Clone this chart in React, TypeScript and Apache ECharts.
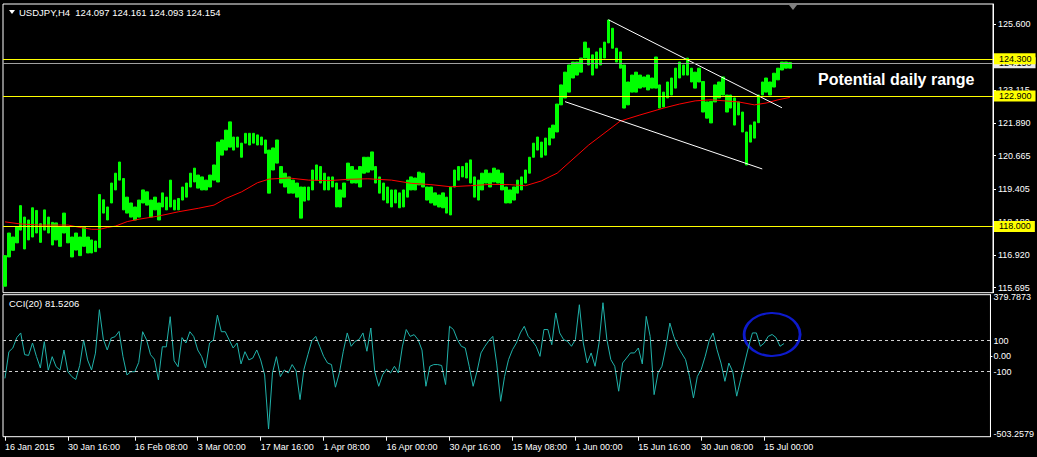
import React, { useEffect, useRef } from 'react';
import * as echarts from 'echarts';

// ---- data (H4 bars grouped 4 per slot) ----
const barLows = [
  115.75, 116.85, 117.10, 117.38, 117.86, 117.15, 117.49, 117.60, 117.75, 117.40,
  117.86, 117.75, 117.30, 117.49, 117.25, 117.75, 117.38, 116.85, 117.11, 116.90,
  117.25, 117.00, 117.00, 117.05, 117.20, 118.50, 118.24, 118.88, 119.37, 119.74,
  118.62, 118.50, 118.35, 118.24, 118.35, 118.88, 118.80, 118.35, 118.62, 118.24,
  118.73, 118.62, 118.73, 118.62, 118.62, 118.99, 119.10, 119.48, 119.67, 119.44,
  119.37, 119.37, 119.48, 119.74, 119.67, 120.68, 120.87, 120.98, 120.87, 120.98,
  120.60, 121.13, 121.06, 121.13, 121.06, 121.06, 120.75, 119.25, 120.12, 120.38,
  119.63, 119.48, 119.25, 119.25, 119.10, 118.31, 118.95, 118.99, 119.37, 119.74,
  119.63, 119.37, 119.37, 119.48, 118.73, 118.73, 119.10, 119.74, 119.63, 119.63,
  119.48, 120.00, 120.04, 120.12, 119.63, 119.25, 118.99, 118.88, 118.73, 118.88,
  118.70, 118.73, 119.10, 119.37, 119.37, 119.56, 119.48, 118.99, 118.88, 118.80,
  118.73, 118.70, 118.50, 118.43, 119.48, 119.74, 119.86, 119.82, 119.63, 119.10,
  118.99, 119.37, 119.63, 119.48, 119.67, 119.63, 119.37, 118.88, 118.88, 118.99,
  119.25, 119.37, 119.63, 120.00, 120.60, 120.87, 120.60, 120.68, 121.06, 121.32,
  121.55, 122.57, 122.83, 123.05, 123.58, 123.69, 123.80, 124.33, 124.07, 123.69,
  123.95, 124.07, 124.33, 124.90, 124.70, 124.18, 123.95, 122.45, 122.57, 123.05,
  123.05, 123.20, 123.24, 123.13, 123.20, 123.20, 122.45, 122.49, 122.83, 122.94,
  123.20, 123.58, 123.69, 123.69, 123.43, 123.20, 123.43, 122.30, 122.07, 121.89,
  122.68, 122.83, 122.94, 122.30, 122.45, 121.81, 122.19, 121.55, 120.31, 121.17,
  121.32, 121.90, 122.94, 123.05, 122.94, 123.24, 123.51, 123.88, 123.95, 123.95
];
const barHighs = [
  116.90, 117.75, 117.60, 117.98, 118.78, 118.35, 118.24, 118.70, 118.60, 118.10,
  118.62, 118.35, 118.15, 118.13, 117.98, 118.50, 117.98, 117.60, 117.75, 117.60,
  117.98, 117.60, 117.49, 117.45, 119.20, 119.00, 118.73, 119.63, 120.00, 120.42,
  119.80, 119.10, 118.88, 118.73, 118.99, 119.37, 119.30, 118.99, 119.10, 118.88,
  119.26, 119.10, 119.74, 118.99, 119.05, 119.48, 119.63, 120.00, 120.19, 119.93,
  119.86, 119.74, 119.93, 120.31, 121.17, 121.25, 121.62, 121.93, 121.36, 121.36,
  121.13, 121.50, 121.50, 121.50, 121.44, 121.36, 121.25, 120.87, 120.95, 121.25,
  120.25, 120.00, 119.86, 119.74, 119.63, 119.48, 119.48, 119.48, 120.12, 120.31,
  120.25, 120.00, 119.86, 119.86, 119.63, 119.37, 119.63, 120.38, 120.25, 120.12,
  120.25, 120.60, 120.60, 120.80, 120.25, 119.86, 119.63, 119.48, 119.37, 119.37,
  119.26, 119.37, 119.74, 119.86, 119.82, 120.04, 120.00, 119.48, 119.48, 119.26,
  119.18, 119.26, 119.10, 119.48, 120.12, 120.25, 120.25, 120.38, 120.50, 119.86,
  119.74, 120.00, 120.12, 120.00, 120.19, 120.12, 120.00, 119.48, 119.37, 119.48,
  119.74, 119.86, 120.12, 120.60, 121.13, 121.36, 121.17, 121.32, 121.70, 121.81,
  122.60, 123.32, 123.80, 124.07, 124.18, 124.18, 124.33, 124.93, 124.70, 124.45,
  124.56, 124.70, 124.93, 125.76, 125.45, 124.70, 124.56, 124.07, 123.43, 123.69,
  123.80, 123.69, 123.62, 123.69, 123.58, 124.37, 123.32, 123.05, 123.43, 123.58,
  123.95, 124.18, 124.07, 124.33, 123.95, 123.80, 123.95, 123.45, 122.68, 122.70,
  123.32, 123.43, 123.62, 122.94, 122.94, 122.83, 122.68, 122.30, 121.55, 121.81,
  121.93, 122.94, 123.43, 123.58, 123.43, 123.76, 123.95, 124.18, 124.18, 124.16
];
// moving average (red) as [slot, price]
const maPoints = [
  [0, 118.17], [4, 118.09], [9, 118.05], [16, 118.05], [19, 117.96], [22, 117.89],
  [24, 117.89], [26, 117.96], [28, 118.01], [31, 118.18], [34, 118.27], [39, 118.39],
  [44, 118.55], [49, 118.68], [53, 118.8], [56, 119.05], [60, 119.3], [64, 119.64],
  [67, 119.78], [72, 119.82], [77, 119.74], [82, 119.72], [87, 119.77], [92, 119.79],
  [98, 119.74], [103, 119.62], [108, 119.57], [113, 119.49], [118, 119.53], [123, 119.58],
  [128, 119.57], [132, 119.53], [136, 119.71], [138, 119.86], [140, 120.0], [148, 121.06],
  [156, 121.96], [161, 122.19], [167, 122.45], [171, 122.6], [175, 122.72], [179, 122.76],
  [186, 122.68], [190, 122.57], [193, 122.64], [196, 122.76], [199, 122.85]
];
const cciValues = [
  -143, 29, 53, 120, 150, 10, 5, 85, -2, -76,
  94, -90, -3, -68, -89, 40, -100, -132, -150, -60,
  105, -24, -89, 20, 300, 110, 40, 117, 126, 160,
  -3, -121, -100, -100, -40, 158, 105, 10, -20, -153,
  61, 60, 255, -30, -68, 120, 85, 158, 126, 40,
  -3, -76, 85, 105, 265, 158, 158, 105, 53, 85,
  -50, 29, -24, -12, 40, -24, -121, -470, -108, -3,
  -132, -89, -108, -54, -95, -280, -84, 10, 100, 128,
  64, -1, -44, -54, -200, -108, 32, 150, 64, 96,
  107, 150, 32, 182, -100, -194, -120, -84, -108, -65,
  -108, 60, 172, 128, 139, 107, 40, -194, -65, -54,
  -54, -60, -183, 193, 172, 107, 64, 53, -65, -194,
  -97, 21, 64, 100, 128, -50, -291, -130, -22, 42,
  85, 150, 193, 128, 100, 64, -1, 172, 172, 74,
  279, 150, 107, 96, 64, 107, 332, 85, -44, 21,
  -65, 85, 345, 107, -22, -65, -226, -44, -12, 21,
  21, 53, -50, 257, 128, -248, -108, -65, 60, 214,
  128, 64, 20, -22, -130, -270, -130, -84, 0, 100,
  150, 42, -44, -162, -44, -100, -258, -150, -44, 60,
  150, 150, 64, 85, 128, 140, 120, 64, 81.5206
];
const priceTickValues = [125.6, 123.115, 121.89, 120.665, 119.405, 118.18, 116.92, 115.695];
const levelLines = [124.3, 122.9, 118.0];
const bidPrice = 124.154;
const cciTickValues = [379.7873, 100, 0, -100, -503.2579];
const cciTickTexts = ['379.7873', '100', '0.00', '-100', '-503.2579'];
const cciLevels = [100, -100];
const xLabelIndex = [0, 16, 33, 49, 65, 81, 97, 113, 129, 145, 161, 177, 193];
const xLabelTexts = [
  '16 Jan 2015', '30 Jan 16:00', '16 Feb 08:00', '3 Mar 00:00', '17 Mar 16:00',
  '1 Apr 08:00', '16 Apr 00:00', '30 Apr 16:00', '15 May 08:00', '1 Jun 00:00',
  '15 Jun 16:00', '30 Jun 08:00', '15 Jul 00:00'
];
const upperTrend = [[153, 125.77], [197, 122.46]];
const lowerTrend = [[142, 122.69], [192, 120.16]];
const cciHighlight = [[195, 140]];
const SLOT_COUNT = 251;

const FONT = 'Liberation Sans, Arial, sans-serif';

export default function App() {
  const ref = useRef<HTMLDivElement>(null);
  useEffect(() => {
    if (!ref.current) return;
    const chart = echarts.init(ref.current, null, { renderer: 'svg' });
    const categories = Array.from({ length: SLOT_COUNT }, (_, i) => String(i));
    const showIdx = (i: number) => xLabelIndex.indexOf(i) >= 0;
    const levelLabel = (bg: string) => ({
      show: true,
      position: 'end',
      distance: 1,
      formatter: (p: any) => Number(p.value).toFixed(3),
      color: '#000',
      backgroundColor: bg,
      fontSize: 9,
      fontFamily: FONT,
      padding: [1, 4, 1, 5],
    });
    chart.setOption({
      animation: false,
      backgroundColor: '#000',
      textStyle: { fontFamily: FONT },
      title: [
        { text: 'USDJPY,H4  124.097 124.161 124.093 124.154', left: 19, top: 7, padding: 0,
          textStyle: { color: '#fff', fontSize: 9.5, fontWeight: 'normal', fontFamily: FONT } },
        { text: 'CCI(20) 81.5206', left: 9, top: 298, padding: 0,
          textStyle: { color: '#fff', fontSize: 9.5, fontWeight: 'normal', fontFamily: FONT } },
        { text: 'Potential daily range', left: 818, top: 71, padding: 0,
          textStyle: { color: '#fff', fontSize: 16, fontWeight: 'bold', fontFamily: FONT } },
      ],
      graphic: [
        { type: 'polygon', shape: { points: [[9, 10], [15, 10], [12, 14]] }, style: { fill: '#fff' } },
        { type: 'polygon', shape: { points: [[789, 5], [797, 5], [793, 10]] }, style: { fill: '#808080' } },
      ],
      grid: [
        { left: 3, top: 4, width: 990, height: 288.7, show: true, borderColor: '#fff', borderWidth: 1, backgroundColor: 'transparent' },
        { left: 3, top: 294.7, width: 990, height: 142, show: true, borderColor: '#fff', borderWidth: 1, backgroundColor: 'transparent' },
      ],
      xAxis: [
        { type: 'category', gridIndex: 0, data: categories, boundaryGap: true,
          axisLine: { show: false, onZero: false }, axisTick: { show: false }, axisLabel: { show: false }, splitLine: { show: false } },
        { type: 'category', gridIndex: 1, data: categories, boundaryGap: true, position: 'bottom',
          axisLine: { show: false, onZero: false },
          axisTick: { show: true, alignWithLabel: true, length: 4, interval: (i: number) => showIdx(i), lineStyle: { color: '#fff' } },
          axisLabel: { show: true, interval: (i: number) => showIdx(i), align: 'left', color: '#fff', fontSize: 9, margin: 6, fontFamily: FONT,
            formatter: (_v: string, i: number) => xLabelTexts[xLabelIndex.indexOf(i)] ?? '' },
          splitLine: { show: false } },
      ],
      yAxis: [
        { type: 'value', gridIndex: 0, position: 'right', min: 115.506, max: 126.363,
          axisLine: { show: true, lineStyle: { color: '#fff' } },
          axisTick: { show: true, length: 3, customValues: priceTickValues, lineStyle: { color: '#fff' } },
          axisLabel: { show: true, customValues: priceTickValues, color: '#fff', fontSize: 9, margin: 5, fontFamily: FONT,
            formatter: (v: number) => v.toFixed(3) },
          splitLine: { show: false } },
        { type: 'value', gridIndex: 1, position: 'right', min: -519.4, max: 396.8,
          axisLine: { show: true, lineStyle: { color: '#fff' } },
          axisTick: { show: true, length: 2, customValues: [0], lineStyle: { color: '#fff' } },
          axisLabel: { show: true, customValues: cciTickValues, color: '#fff', fontSize: 9, margin: 3, fontFamily: FONT,
            formatter: (v: number) => {
              const k = cciTickValues.findIndex((t) => Math.abs(t - v) < 1e-6);
              return k >= 0 ? cciTickTexts[k] : '';
            } },
          splitLine: { show: false } },
      ],
      series: [
        {
          type: 'candlestick', xAxisIndex: 0, yAxisIndex: 0,
          data: barLows.map((l, i) => [l, barHighs[i], l, barHighs[i]]),
          barWidth: 3,
          itemStyle: { color: '#00ff00', color0: '#00ff00', borderColor: '#00ff00', borderColor0: '#00ff00', borderWidth: 1 },
          markLine: {
            silent: true, symbol: ['none', 'none'], animation: false,
            data: [
              { yAxis: bidPrice, lineStyle: { color: '#a0a0a0', type: 'solid', width: 1 }, label: levelLabel('#e8e8e8') },
              ...levelLines.map((v) => ({ yAxis: v, lineStyle: { color: '#ffff00', type: 'solid', width: 1 }, label: levelLabel('#ffff00') })),
            ],
          },
        },
        { type: 'line', xAxisIndex: 0, yAxisIndex: 0, data: maPoints, symbol: 'none',
          lineStyle: { color: '#ff0000', width: 1 } },
        { type: 'line', xAxisIndex: 0, yAxisIndex: 0, data: upperTrend, symbol: 'none',
          lineStyle: { color: '#ffffff', width: 1 } },
        { type: 'line', xAxisIndex: 0, yAxisIndex: 0, data: lowerTrend, symbol: 'none',
          lineStyle: { color: '#ffffff', width: 1 } },
        { type: 'line', xAxisIndex: 1, yAxisIndex: 1, data: cciValues, symbol: 'none',
          lineStyle: { color: '#20b2aa', width: 1 },
          markLine: {
            silent: true, symbol: ['none', 'none'], label: { show: false },
            data: cciLevels.map((v) => ({ yAxis: v })),
            lineStyle: { color: '#d0d0d0', type: [3, 3], width: 1 },
          } },
        { type: 'scatter', xAxisIndex: 1, yAxisIndex: 1, data: cciHighlight, symbol: 'circle',
          symbolSize: [56, 43], silent: true,
          itemStyle: { color: 'rgba(0,0,0,0)', borderColor: '#1020ff', borderWidth: 2.5 } },
      ],
    });
    return () => chart.dispose();
  }, []);
  return (
    <div ref={ref} style={{ position: 'fixed', left: 0, top: 0, width: 1037, height: 457, background: '#000' }} />
  );
}
